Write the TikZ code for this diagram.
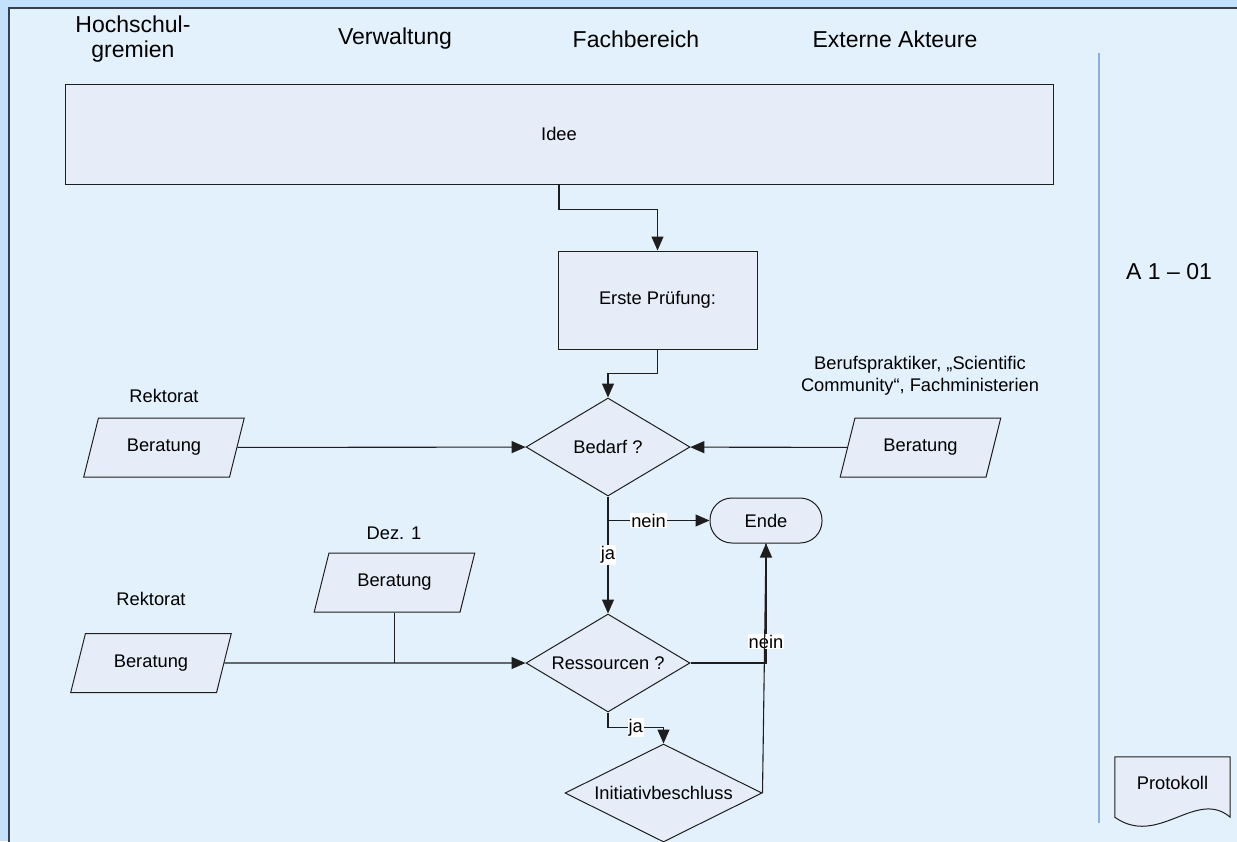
\documentclass[tikz,border=0pt]{standalone}
\usepackage{fontspec}
\setmainfont{Liberation Sans}
\usetikzlibrary{shapes.geometric,arrows.meta}
\definecolor{outerbg}{HTML}{C4E1FC}
\definecolor{panelbg}{HTML}{E3F1FD}
\definecolor{shapefill}{HTML}{E6EDF8}
\definecolor{framec}{HTML}{3A4048}
\definecolor{lanec}{HTML}{8AB0E0}
\definecolor{inkc}{HTML}{1E1E1E}
\begin{document}
\begin{tikzpicture}[x=1pt,y=-1pt,
  font=\fontsize{18.3}{22}\selectfont,
  box/.style={draw=inkc,fill=shapefill,line width=1pt,inner sep=0pt},
  proc/.style={box,rectangle},
  dec/.style={box,diamond,aspect=2,minimum width=164pt,minimum height=98pt},
  io/.style={box,trapezium,trapezium left angle=63,trapezium right angle=117,
    trapezium stretches=true,minimum width=162pt,minimum height=59pt},
  head/.style={font=\fontsize{23}{26}\selectfont,align=center,inner sep=0pt},
  plain/.style={align=center,inner sep=0pt},
  lbl/.style={fill=white,inner sep=1pt},
  conn/.style={line width=1.1pt,draw=inkc},
  arr/.style={conn,-{Triangle[length=14pt,width=12pt]}},
]
\useasboundingbox (0,0) rectangle (1237,841);
\fill[outerbg] (0,0) rectangle (1237,841);
\draw[framec,fill=panelbg,line width=2pt] (9,8) rectangle (1260,870);

% lane headers
\node[head,font=\fontsize{23}{25}\selectfont] (h1) at (133,39) {Hochschul-\\gremien};
\node[head] (h2) at (395,39) {Verwaltung};
\node[head] (h3) at (636,39) {Fachbereich};
\node[head] (h4) at (895,39) {Externe Akteure};

% right column
\coordinate (lt) at (1099,53);
\coordinate (lb) at (1099,823);
\draw[lanec,line width=2pt] (lt) -- (lb);
\node[head] (code) at (1169,272) {A 1 – 01};
\node[inner sep=0pt,minimum width=115pt,minimum height=60pt] (prot) at (1172.5,787) {};
\draw[inkc,fill=shapefill,line width=1pt] (prot.south west) -- (prot.north west) -- (prot.north east) -- (prot.south east)
  .. controls (1196,788) and (1158,848) .. (prot.south west) -- cycle;
\node[plain] (prottxt) at (1172.5,783) {Protokoll};

% main flow
\node[proc,minimum width=988pt,minimum height=100pt] (idee) at (559,134) {Idee};
\node[proc,minimum width=199pt,minimum height=98pt] (erste) at (657.5,300) {Erste Prüfung:};
\node[dec] (bedarf) at (608,447) {Bedarf ?};
\node[io] (ber1) at (164,447.5) {Beratung};
\node[plain] (rek1) at (164,396) {Rektorat};
\node[io] (ber3) at (920.5,447.5) {Beratung};
\node[plain] (ext) at (920,376) {Berufspraktiker, „Scientific\\Community“, Fachministerien};
\node[box,rectangle,rounded corners=22pt,minimum width=112pt,minimum height=45pt] (ende) at (766,520.5) {Ende};
\node[io] (dez) at (394.5,582.5) {Beratung};
\node[plain] (dezl) at (394,533) {Dez. 1};
\node[io] (ber2) at (151,663) {Beratung};
\node[plain] (rek2) at (151,599) {Rektorat};
\node[dec] (res) at (608,663) {Ressourcen ?};
\node[dec,minimum width=197pt] (init) at (663.5,793) {Initiativbeschluss};

% connectors
\draw[arr] (idee.south) -- ++(0,25) -| (erste.north);
\draw[arr] (erste.south) -- ++(0,24) -| (bedarf.north);
\draw[arr] (ber1) -- (bedarf);
\draw[arr] (ber3) -- (bedarf);
\draw[arr] (bedarf.south) |- node[pos=0.70,lbl] {nein} (ende.west);
\draw[arr] (bedarf.south) -- node[pos=0.5,lbl] {ja} (res.north);
\draw[arr] (ber2) -- (res);
\draw[conn] (dez.south) -- (dez.south |- res.west);
\draw[arr] (res.east) -| node[pos=0.59,lbl] {nein} (ende.south);
\draw[arr] (res.south) -- ++(0,15) -| node[pos=0.25,lbl] {ja} (init.north);
\draw[conn] (init.east) -- (ende.south);
\end{tikzpicture}
\end{document}
